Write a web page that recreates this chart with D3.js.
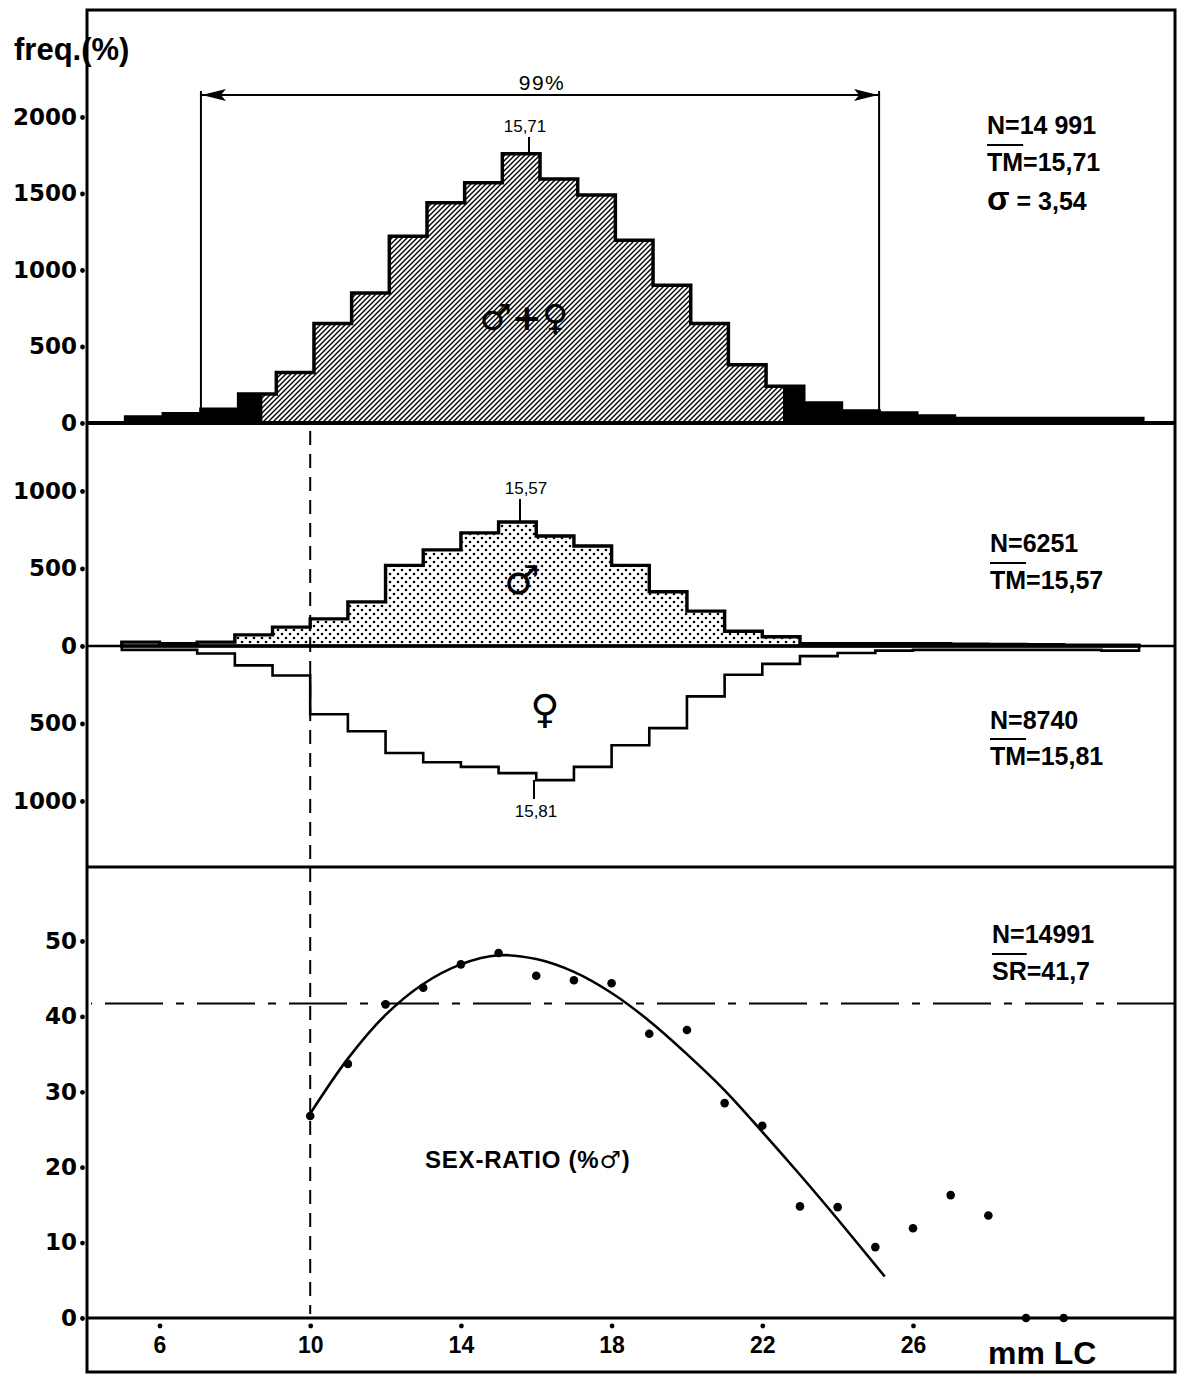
<!DOCTYPE html>
<html>
<head>
<meta charset="utf-8">
<script src="https://cdn.jsdelivr.net/npm/d3@7"></script>
<style>
  body { margin: 0; background: #fff; }
</style>
</head>
<body>
<div id="chart"></div>
<script>
// length classes (mm LC), lower edge of each 1 mm class
const mmClasses = [5, 6, 7, 8, 9, 10, 11, 12, 13, 14, 15, 16, 17, 18, 19, 20, 21, 22, 23, 24, 25, 26, 27, 28, 29, 30, 31];
// male + female
const totalFreq = [40, 60, 90, 190, 330, 650, 850, 1220, 1440, 1570, 1760, 1595, 1490, 1195, 900, 650, 380, 240, 130, 78, 65, 45, 30, 30, 30, 30, 30];
const maleFreq = [25, 15, 25, 72, 122, 175, 285, 520, 620, 730, 800, 710, 645, 520, 350, 225, 95, 60, 15, 15, 15, 15, 12, 10, 8, 5, 5];
const femaleFreq = [25, 25, 48, 125, 190, 440, 550, 690, 750, 780, 820, 865, 780, 640, 530, 325, 185, 115, 65, 45, 30, 25, 25, 25, 25, 25, 30];

// sex-ratio (% males) per class
const srLength = [10, 11, 12, 13, 14, 15, 16, 17, 18, 19, 20, 21, 22, 23, 24, 25, 26, 27, 28, 29, 30];
const srValues = [26.8, 33.7, 41.6, 43.8, 46.9, 48.4, 45.4, 44.8, 44.4, 37.7, 38.2, 28.5, 25.5, 14.8, 14.7, 9.4, 11.9, 16.3, 13.6, 0, 0];
// fitted curve
const fitLength = [10, 11, 12, 13, 14, 15, 16, 17, 18, 19, 20, 21, 22, 23, 24, 25.25];
const fitValues = [27.1, 34.4, 40.2, 44.3, 46.9, 48.1, 47.6, 45.9, 43.1, 39.4, 35.0, 30.2, 24.7, 19.0, 13.1, 5.5];
const srMean = 41.7;

const range99 = [7.1, 25.1];
const hatchRange = [8.73, 22.55];
const means = { total: 15.71, male: 15.57, female: 15.81 };

const xTicks = [6, 10, 14, 18, 22, 26];
const topTicks = [0, 500, 1000, 1500, 2000];
const midTicks = [1000, 500, 0, -500, -1000];
const srTicks = [0, 10, 20, 30, 40, 50];

const W = 1177, H = 1376;
const L = 87, R = 1175, T = 10, B = 1372;

const svg = d3.select("#chart").append("svg")
    .attr("width", W)
    .attr("height", H);

// patterns
const defs = svg.append("defs");
const hatch = defs.append("pattern")
    .attr("id", "hatch")
    .attr("patternUnits", "userSpaceOnUse")
    .attr("width", 5).attr("height", 5);
hatch.append("rect").attr("width", 5).attr("height", 5).attr("fill", "#fff");
hatch.append("path")
    .attr("d", "M-1,1 l2,-2 M0,5 l5,-5 M4,6 l2,-2")
    .attr("stroke", "#000").attr("stroke-width", 1.4);

const dots = defs.append("pattern")
    .attr("id", "dots")
    .attr("patternUnits", "userSpaceOnUse")
    .attr("width", 8).attr("height", 8);
dots.append("rect").attr("width", 8).attr("height", 8).attr("fill", "#fff");
dots.append("circle").attr("cx", 2).attr("cy", 2).attr("r", 1.3).attr("fill", "#000");
dots.append("circle").attr("cx", 6).attr("cy", 6).attr("r", 1.3).attr("fill", "#000");

defs.append("clipPath").attr("id", "hatchClip")
  .append("rect")
    .attr("y", 0).attr("height", H);

// scales
const x = d3.scaleLinear().domain([6, 26]).range([159.5, 913]);
const yTop = d3.scaleLinear().domain([0, 2000]).range([423, 117]);
const yMid = d3.scaleLinear().domain([-1000, 1000]).range([801, 491]);
const ySr = d3.scaleLinear().domain([0, 50]).range([1318, 941]);

const topShift = 0.1; // the upper histogram is drawn a little to the right

d3.select("#hatchClip rect")
    .attr("x", x(hatchRange[0]))
    .attr("width", x(hatchRange[1]) - x(hatchRange[0]));

function stepData(vals) {
  const d = mmClasses.map((k, i) => ({ k: k, v: vals[i] }));
  d.push({ k: mmClasses[mmClasses.length - 1] + 1, v: vals[vals.length - 1] });
  return d;
}

// ---------- top panel: total ----------
const topArea = d3.area()
    .x(d => x(d.k + topShift))
    .y0(yTop(0))
    .y1(d => yTop(d.v))
    .curve(d3.curveStepAfter);
const topData = stepData(totalFreq);

svg.append("path").attr("d", topArea(topData)).attr("fill", "#000");
svg.append("path").attr("d", topArea(topData))
    .attr("fill", "url(#hatch)")
    .attr("clip-path", "url(#hatchClip)");
svg.append("path").attr("d", topArea(topData))
    .attr("fill", "none").attr("stroke", "#000")
    .attr("stroke-width", 3.5).attr("stroke-linejoin", "miter");

// ---------- middle panel: males up, females down ----------
const maleArea = d3.area()
    .x(d => x(d.k))
    .y0(yMid(0))
    .y1(d => yMid(d.v))
    .curve(d3.curveStepAfter);
svg.append("path").attr("d", maleArea(stepData(maleFreq)))
    .attr("fill", "url(#dots)").attr("stroke", "#000").attr("stroke-width", 3.4);

const femaleArea = d3.area()
    .x(d => x(d.k))
    .y0(yMid(0))
    .y1(d => yMid(-d.v))
    .curve(d3.curveStepAfter);
svg.append("path").attr("d", femaleArea(stepData(femaleFreq)))
    .attr("fill", "none").attr("stroke", "#000").attr("stroke-width", 2.6);

// ---------- frame and separators ----------
svg.append("rect")
    .attr("x", L).attr("y", T).attr("width", R - L).attr("height", B - T)
    .attr("fill", "none").attr("stroke", "#000").attr("stroke-width", 3);
svg.append("line").attr("x1", L).attr("x2", R).attr("y1", yTop(0)).attr("y2", yTop(0))
    .attr("stroke", "#000").attr("stroke-width", 4);
svg.append("line").attr("x1", L).attr("x2", R).attr("y1", yMid(0)).attr("y2", yMid(0))
    .attr("stroke", "#000").attr("stroke-width", 2.5);
svg.append("line").attr("x1", L).attr("x2", R).attr("y1", 867).attr("y2", 867)
    .attr("stroke", "#000").attr("stroke-width", 3);
svg.append("line").attr("x1", L).attr("x2", R).attr("y1", ySr(0)).attr("y2", ySr(0))
    .attr("stroke", "#000").attr("stroke-width", 3);

// dashed vertical at 10 mm
svg.append("line")
    .attr("x1", x(10)).attr("x2", x(10))
    .attr("y1", yTop(0) + 8).attr("y2", ySr(0) - 4)
    .attr("stroke", "#000").attr("stroke-width", 2)
    .attr("stroke-dasharray", "14,9");

// ---------- 99 % bracket ----------
const brY = 95;
range99.forEach(v => {
  svg.append("line")
      .attr("x1", x(v)).attr("x2", x(v))
      .attr("y1", brY - 4).attr("y2", yTop(0))
      .attr("stroke", "#000").attr("stroke-width", 2);
});
svg.append("line")
    .attr("x1", x(range99[0])).attr("x2", x(range99[1]))
    .attr("y1", brY).attr("y2", brY)
    .attr("stroke", "#000").attr("stroke-width", 2);
svg.append("path")
    .attr("d", `M${x(range99[0]) + 1},${brY} l24,-6 l-5,6 l5,6 z`)
    .attr("fill", "#000");
svg.append("path")
    .attr("d", `M${x(range99[1]) - 1},${brY} l-24,-6 l5,6 l-5,6 z`)
    .attr("fill", "#000");
svg.append("text")
    .attr("x", 542).attr("y", 90)
    .attr("text-anchor", "middle")
    .attr("font-family", "Liberation Sans").attr("font-size", 21)
    .attr("letter-spacing", 1.5)
    .text("99%");

// ---------- mean markers ----------
function meanMark(v, lx, tx, ty, y1, y2) {
  svg.append("line")
      .attr("x1", lx).attr("x2", lx).attr("y1", y1).attr("y2", y2)
      .attr("stroke", "#000").attr("stroke-width", 2);
  svg.append("text")
      .attr("x", tx).attr("y", ty)
      .attr("text-anchor", "middle")
      .attr("font-family", "Liberation Sans").attr("font-size", 17)
      .text(String(v).replace(".", ","));
}
meanMark(means.total, 529, 525, 132, 137, yTop(1760));
meanMark(means.male, 520, 526, 494, 499, yMid(800));
meanMark(means.female, 534, 536, 817, yMid(-865), 799);

// ---------- sex symbols ----------
function sym(t, sx, sy, size) {
  svg.append("text")
      .attr("x", sx).attr("y", sy)
      .attr("text-anchor", "middle")
      .attr("font-family", "DejaVu Sans").attr("font-weight", "bold")
      .attr("font-size", size)
      .text(t);
}
sym("\u2642+\u2640", 524, 330, 36);
sym("\u2642", 522, 594, 40);
sym("\u2640", 545, 723, 40);

// ---------- statistics blocks ----------
function stats(lines, sx, ys) {
  lines.forEach((ln, i) => {
    const t = svg.append("text")
        .attr("x", sx).attr("y", ys[i])
        .attr("font-family", "Liberation Sans").attr("font-weight", "bold")
        .attr("font-size", 25);
    if (ln.big) {
      t.append("tspan").attr("font-size", 33).text(ln.big);
    }
    t.append("tspan").text(ln.text);
    if (ln.bar) {
      const w = t.node().getSubStringLength(0, ln.bar);
      svg.append("line")
          .attr("x1", sx).attr("x2", sx + w)
          .attr("y1", ys[i] - 26).attr("y2", ys[i] - 26)
          .attr("stroke", "#000").attr("stroke-width", 2);
    }
  });
}
stats([{ text: "N=14 991" }, { text: "TM=15,71", bar: 2 }, { big: "\u03c3", text: " = 3,54" }], 987, [134, 171, 210]);
stats([{ text: "N=6251" }, { text: "TM=15,57", bar: 2 }], 990, [552, 589]);
stats([{ text: "N=8740" }, { text: "TM=15,81", bar: 2 }], 990, [729, 765]);
stats([{ text: "N=14991" }, { text: "SR=41,7", bar: 2 }], 992, [943, 980]);

// ---------- sex-ratio panel ----------
// drawn from the right so that both ends start on a long dash
svg.append("line")
    .attr("x1", R).attr("x2", L + 4)
    .attr("y1", ySr(srMean)).attr("y2", ySr(srMean))
    .attr("stroke", "#000").attr("stroke-width", 2)
    .attr("stroke-dasharray", "58,13,8,13");

const fitLine = d3.line()
    .x((d, i) => x(d))
    .y((d, i) => ySr(fitValues[i]))
    .curve(d3.curveCatmullRom);
svg.append("path")
    .attr("d", fitLine(fitLength))
    .attr("fill", "none").attr("stroke", "#000").attr("stroke-width", 2.6);

svg.selectAll(".sr").data(srLength).enter().append("circle")
    .attr("cx", d => x(d))
    .attr("cy", (d, i) => ySr(srValues[i]))
    .attr("r", 4.3)
    .attr("fill", "#000");

svg.append("text")
    .attr("x", 425).attr("y", 1168)
    .attr("font-family", "Liberation Sans").attr("font-weight", "bold")
    .attr("font-size", 24).attr("letter-spacing", 0.8)
    .text("SEX-RATIO (%")
  .append("tspan").attr("font-family", "DejaVu Sans").text("\u2642")
  .append("tspan").attr("font-family", "Liberation Sans").text(")");

// ---------- axes ----------
function leftAxis(scale, ticks) {
  const g = svg.append("g")
      .attr("transform", `translate(77,0)`)
      .call(d3.axisLeft(scale).tickValues(ticks).tickSize(0).tickPadding(0)
          .tickFormat(d => Math.abs(d)));
  g.select(".domain").remove();
  g.selectAll("text")
      .attr("font-family", "DejaVu Sans").attr("font-weight", "bold")
      .attr("font-size", 23).attr("fill", "#000");
  g.selectAll(".tick").append("circle").attr("cx", 5.5).attr("r", 2.4).attr("fill", "#000");
}
leftAxis(yTop, topTicks);
leftAxis(yMid, midTicks);
leftAxis(ySr, srTicks);

const gx = svg.append("g")
    .attr("transform", `translate(0,${ySr(0)})`)
    .call(d3.axisBottom(x).tickValues(xTicks).tickSize(0).tickPadding(19));
gx.select(".domain").remove();
gx.selectAll("text")
    .attr("font-family", "Liberation Sans").attr("font-weight", "bold")
    .attr("font-size", 23).attr("fill", "#000");
gx.selectAll(".tick").append("circle").attr("cy", 8).attr("r", 2.4).attr("fill", "#000");

svg.append("text")
    .attr("x", 988).attr("y", 1364)
    .attr("font-family", "Liberation Sans").attr("font-weight", "bold")
    .attr("font-size", 32)
    .text("mm LC");

svg.append("text")
    .attr("x", 14).attr("y", 60)
    .attr("font-family", "Liberation Sans").attr("font-weight", "bold")
    .attr("font-size", 31)
    .text("freq.(%)");
</script>
</body>
</html>
